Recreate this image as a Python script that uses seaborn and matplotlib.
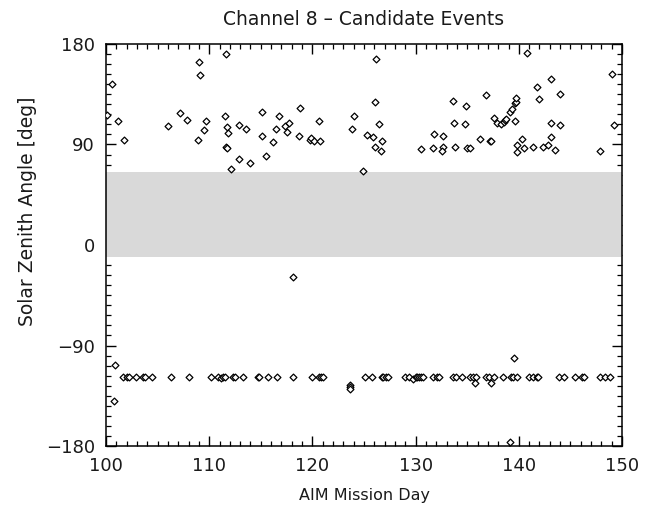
import numpy as np
import pandas as pd
import matplotlib
matplotlib.use("Agg")
import matplotlib.pyplot as plt
import seaborn as sns
from matplotlib.ticker import MultipleLocator

# Candidate events: mission day and solar zenith angle (deg)
upper_day = [100.6, 100.1, 101.2, 101.7, 106.0, 107.2, 107.85, 109.0, 109.1, 108.9,
             109.5, 109.7, 111.6, 111.5, 111.7, 111.8, 111.6, 111.7, 112.1, 112.9,
             112.9, 113.6, 113.95, 115.1, 115.1, 115.5, 116.2, 116.5, 116.8, 117.3,
             117.7, 117.5, 118.8, 118.7, 119.8, 119.9, 120.2, 120.7, 120.6, 124.0,
             123.8, 124.9, 126.2, 126.1, 126.45, 125.3, 125.9, 126.7, 126.1, 126.6,
             130.55, 131.75, 131.7, 132.7, 132.7, 132.6, 133.65, 133.7, 133.8, 134.9,
             134.75, 135.0, 135.3, 136.2, 136.8, 137.2, 137.3, 137.6, 137.9, 138.3,
             138.55, 138.7, 138.8, 139.1, 139.3, 139.6, 139.7, 139.7, 139.6, 139.85,
             139.85, 140.3, 140.5, 140.8, 141.4, 141.8, 142.0, 142.3, 142.85, 143.15,
             143.1, 143.15, 143.5, 144.0, 144.0, 147.9, 149.0, 149.2]
upper_sza = [144.5, 116.4, 110.8, 94.0, 106.6, 117.9, 111.9, 163.6, 152.2, 94.3,
             102.7, 111.3, 171.0, 115.5, 105.4, 100.3, 88.0, 87.1, 68.0, 107.2,
             77.0, 104.2, 73.4, 118.8, 97.6, 80.0, 92.5, 103.6, 115.5, 106.8,
             109.0, 101.2, 122.7, 97.3, 94.0, 95.5, 93.1, 92.8, 111.3, 115.8,
             103.9, 66.0, 166.6, 127.8, 108.1, 98.5, 96.4, 93.4, 87.8, 84.2,
             86.0, 99.4, 86.6, 97.9, 87.8, 84.5, 128.7, 109.0, 87.5, 124.5,
             108.4, 87.1, 86.6, 95.2, 134.3, 93.1, 93.4, 114.0, 109.0, 108.6,
             110.1, 111.9, 112.6, 118.8, 122.0, 126.9, 128.0, 131.4, 111.0, 89.5,
             83.3, 94.9, 86.6, 171.7, 87.8, 141.8, 130.5, 88.0, 89.5, 148.4,
             109.2, 96.4, 84.8, 134.9, 107.5, 84.2, 153.4, 107.2]

mid_day = [118.1]
mid_sza = [-28.9]

lower_day = [100.87, 100.8, 101.68, 102.06, 102.26, 102.91, 103.61, 103.78, 104.43,
             106.27, 108.07, 110.17, 110.88, 111.11, 111.37, 111.56, 112.34, 112.53,
             113.25, 114.73, 114.86, 115.67, 116.54, 118.12, 119.96, 120.67, 120.83,
             121.0, 123.6, 123.6, 123.65, 125.1, 125.75, 126.7, 126.87, 127.13, 127.29,
             128.97, 129.39, 129.78, 130.04, 130.17, 130.36, 130.56, 130.69, 131.72,
             132.1, 132.3, 133.6, 133.88, 134.47, 135.27, 135.53, 135.85, 135.76,
             136.82, 137.14, 137.27, 137.63, 138.44, 139.21, 139.47, 139.8, 139.5,
             139.15, 141.02, 141.41, 141.73, 141.89, 143.87, 144.41, 145.45, 146.09,
             146.35, 147.87, 148.35, 148.84]
lower_sza = [-107.5, -139.7, -118.0, -118.0, -118.0, -118.0, -118.0, -118.0, -118.0,
             -118.0, -118.0, -118.0, -118.0, -119.5, -118.0, -118.0, -118.0, -118.0,
             -118.0, -118.0, -118.0, -118.0, -118.0, -118.0, -118.0, -118.0, -118.0,
             -118.0, -125.5, -127.0, -128.5, -118.0, -118.0, -118.0, -118.0, -118.0, -118.0,
             -118.0, -118.0, -120.3, -118.0, -118.0, -118.0, -118.0, -118.0, -118.0,
             -118.0, -118.0, -118.0, -118.0, -118.0, -118.0, -118.0, -118.0, -123.9,
             -118.0, -118.0, -123.9, -118.0, -118.0, -118.0, -118.0, -118.0, -101.5,
             -176.7, -118.0, -118.0, -118.0, -118.0, -118.0, -118.0, -118.0, -118.0,
             -118.0, -118.0, -118.0, -118.0]

# Excluded zenith-angle band
band_low, band_high = -11.0, 65.0

x_ticks = [100, 110, 120, 130, 140, 150]
y_ticks = [-180, -90, 0, 90, 180]

df = pd.DataFrame({
    "day": upper_day + mid_day + lower_day,
    "sza": upper_sza + mid_sza + lower_sza,
})

sns.set_theme(style="ticks")
plt.rcParams["font.family"] = ["DejaVu Sans"]
text_color = "#1a1a1a"

fig = plt.figure(figsize=(6.51, 5.05), dpi=100)
ax = fig.add_axes([0.1628, 0.1168, 0.7927, 0.7961])

ax.axhspan(band_low, band_high, color="#d9d9d9", lw=0, zorder=1)

sns.scatterplot(data=df, x="day", y="sza", ax=ax, marker="D", s=12,
                facecolor="white", edgecolor="black", linewidth=0.9, zorder=3)

ax.set_xlim(100, 150)
ax.set_ylim(-180, 180)
ax.set_xticks(x_ticks)
ax.set_yticks(y_ticks)
ax.xaxis.set_minor_locator(MultipleLocator(1))
ax.yaxis.set_minor_locator(MultipleLocator(9))
ax.tick_params(which="both", direction="in", top=True, right=True, color="black")
ax.tick_params(which="major", length=7, width=1.0, labelsize=13, pad=8,
               labelcolor=text_color)
ax.tick_params(which="minor", length=3.5, width=0.9)
for s in ax.spines.values():
    s.set_linewidth(1.1)
    s.set_color("black")

ax.set_xlabel("AIM Mission Day", fontsize=11.5, labelpad=9, color=text_color)
ax.set_ylabel("Solar Zenith Angle [deg]", fontsize=13.5, color=text_color)
ax.yaxis.set_label_coords(-0.134, 0.585)
ax.set_title("Channel 8 – Candidate Events", fontsize=13.5, pad=14, color=text_color)

fig.savefig("out.png", dpi=100)
